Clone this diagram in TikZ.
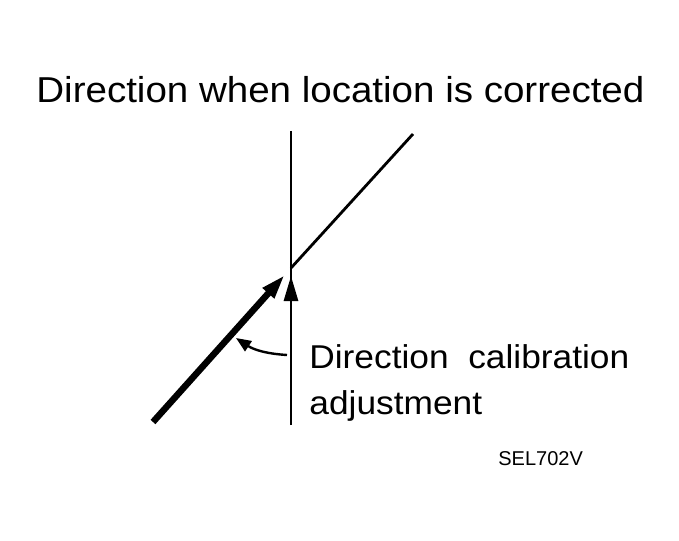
\documentclass[tikz,border=0pt]{standalone}
\usepackage{fontspec}
\setmainfont{Liberation Sans}
\usetikzlibrary{arrows.meta,positioning}

\begin{document}
\begin{tikzpicture}[x=1pt,y=-1pt,line width=2.8pt,>={Triangle[length=25pt,width=14pt]},
  label text/.style={inner sep=0pt,align=left,font=\fontsize{33}{46}\selectfont},
  thick line/.style={line width=6.5pt}]

            \useasboundingbox (0,0) rectangle (679,540);

            \node[anchor=base west,inner sep=0pt,font=\fontsize{36}{40}\selectfont] (title) at (35,103) {\scalebox{1.07}[1]{Direction when location is corrected}};

            \coordinate (cross) at (291,268);
            \coordinate (vtop) at (291,131);
            \coordinate (vbot) at (291,425);
            \coordinate (dtop) at (413,134);
            \coordinate (dbot) at (153,422);
            \coordinate (cstart) at (287,355);
            \coordinate (ctip) at (236,338);

            \node[label text,anchor=north west] (calib) at (308,343) {\scalebox{1.07}[1]{Direction\ \ calibration}\\\scalebox{1.07}[1]{adjustment}};
            \node[anchor=base west,inner sep=0pt,font=\fontsize{20}{24}\selectfont] (code) at (497,465) {SEL702V};

            \draw[-] (vtop) to (vbot);
            \draw[-] (cross) to (dtop);
            \draw[->,thick line,shorten >=9pt] (dbot) to (cross);
            \draw[->,shorten >=8pt] (vbot) to (cross);
            \draw[-{Triangle[length=15pt,width=12pt]},line width=2.4pt] (cstart) to[bend left=15] (ctip);

            ;
        \end{tikzpicture}
\end{document}
